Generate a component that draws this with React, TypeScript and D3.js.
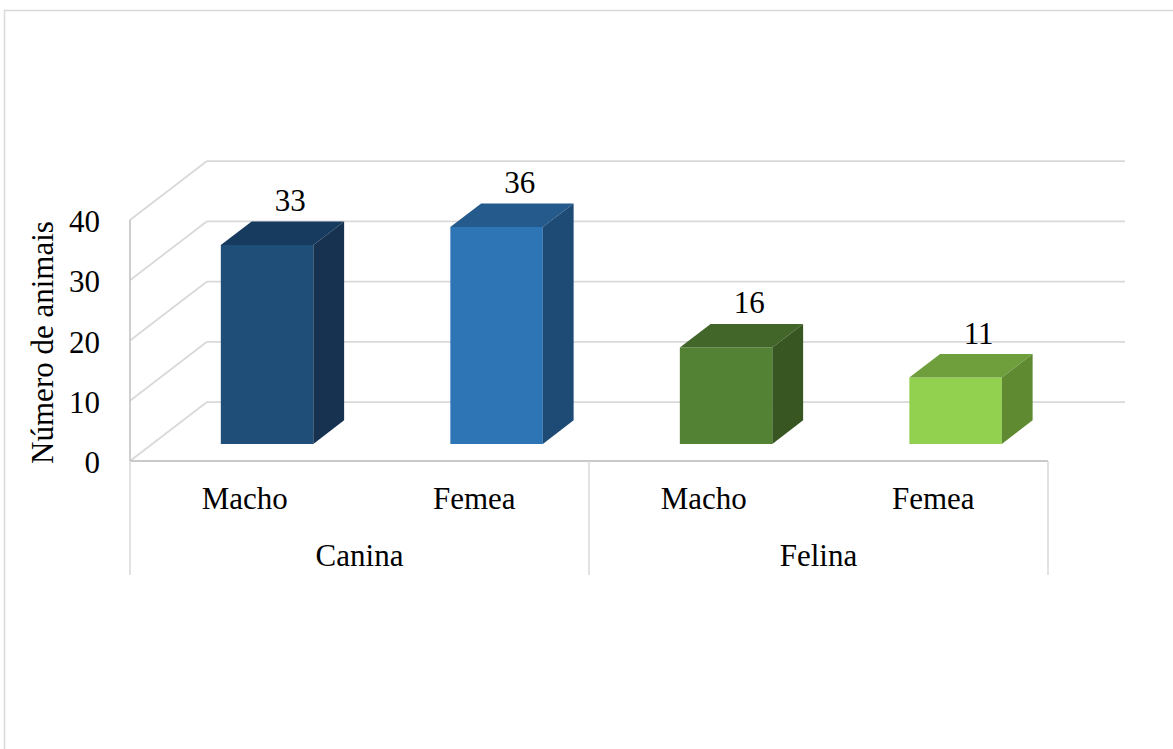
import React from "react";
import * as d3 from "d3";

const subCategories = ["Macho", "Femea", "Macho", "Femea"];
const groups = ["Canina", "Felina"];
const groupOf = [0, 0, 1, 1];
const values = [33, 36, 16, 11];
const yTicks = [0, 10, 20, 30, 40];
const frontColors = ["#1F4E79", "#2E75B6", "#548235", "#92D050"];
const topColors = ["#173B5E", "#245A8C", "#42662A", "#6F9E3C"];
const sideColors = ["#163250", "#1E4A76", "#385621", "#5F8A31"];

const W = 1173;
const H = 749;
const FONT = "'Times New Roman', 'Liberation Serif', serif";
const FS = 31;

export default function App() {
  // front plane geometry
  const x0 = 130;
  const x1 = 1048;
  const yScale = d3.scaleLinear().domain([0, 40]).range([461, 220]);
  const DX = 77;
  const DY = -59;
  const t0 = 0.29;
  const t1 = 0.69;
  const proj = (x: number, v: number, t: number): [number, number] => [x + t * DX, yScale(v) + t * DY];

  const xBand = d3.scaleBand<number>().domain(d3.range(values.length)).range([x0, x1]).padding(0);
  const step = xBand.bandwidth();
  const barW = step * 0.403;
  const groupBand = d3.scaleBand<number>().domain(d3.range(groups.length)).range([x0, x1]).padding(0);

  const pts = (arr: [number, number][]) => arr.map((p) => p.join(",")).join(" ");
  const grid = "#D9D9D9";

  return (
    <svg width={W} height={H} style={{ position: "absolute", left: 0, top: 0, background: "#fff" }}>
      <rect x={4.5} y={10.5} width={W + 10} height={H + 10} fill="#fff" stroke="#D9D9D9" strokeWidth={1.5} />
      {/* side wall diagonals and back wall gridlines */}
      {yTicks.map((v) => {
        const a = proj(x0, v, 0);
        const b = proj(x0, v, 1);
        const c = proj(x1, v, 1);
        return (
          <g key={"g" + v}>
            <line x1={a[0]} y1={a[1]} x2={b[0]} y2={b[1]} stroke={grid} strokeWidth={1.75} />
            <line x1={b[0]} y1={b[1]} x2={c[0]} y2={c[1]} stroke={grid} strokeWidth={1.75} />
          </g>
        );
      })}
      {/* front floor edge */}
      <line x1={x0} y1={yScale(0)} x2={x1} y2={yScale(0)} stroke="#C9C9C9" strokeWidth={2} />
      {/* front left axis line */}
      <line x1={x0} y1={yScale(40)} x2={x0} y2={yScale(0)} stroke="#BFBFBF" strokeWidth={1.5} />
      {/* group separators */}
      {d3.range(groups.length + 1).map((i) => {
        const x = i < groups.length ? (groupBand(i) as number) : x1;
        return <line key={"s" + i} x1={x} y1={yScale(0)} x2={x} y2={575} stroke={grid} strokeWidth={1.5} />;
      })}
      {/* bars */}
      {values.map((v, i) => {
        const cx = (xBand(i) as number) + step / 2;
        const l = cx - barW / 2;
        const r = cx + barW / 2;
        const fbl = proj(l, 0, t0);
        const fbr = proj(r, 0, t0);
        const ftl = proj(l, v, t0);
        const ftr = proj(r, v, t0);
        const btl = proj(l, v, t1);
        const btr = proj(r, v, t1);
        const bbr = proj(r, 0, t1);
        const lab = proj(cx, v, t0 + 0.3);
        return (
          <g key={"b" + i}>
            <polygon points={pts([fbl, fbr, ftr, ftl])} fill={frontColors[i]} />
            <polygon points={pts([ftl, ftr, btr, btl])} fill={topColors[i]} />
            <polygon points={pts([fbr, ftr, btr, bbr])} fill={sideColors[i]} />
            <text
              x={lab[0]}
              y={proj(cx, v, t0)[1] - 34}
              textAnchor="middle"
              fontFamily={FONT}
              fontSize={FS}
              fill="#000"
            >
              {v}
            </text>
          </g>
        );
      })}
      {/* y tick labels */}
      {yTicks.map((v) => (
        <text key={"t" + v} x={100} y={yScale(v) + 12} textAnchor="end" fontFamily={FONT} fontSize={FS} fill="#000">
          {v}
        </text>
      ))}
      {/* y title */}
      <text
        transform={`translate(53, ${(yScale(0) + 218) / 2 + 3}) rotate(-90)`}
        textAnchor="middle"
        fontFamily={FONT}
        fontSize={FS}
        fill="#000"
      >
        Número de animais
      </text>
      {/* category labels */}
      {subCategories.map((c, i) => (
        <text
          key={"c" + i}
          x={(xBand(i) as number) + step / 2}
          y={509}
          textAnchor="middle"
          fontFamily={FONT}
          fontSize={FS}
          fill="#000"
        >
          {c}
        </text>
      ))}
      {groups.map((g, i) => (
        <text
          key={"gr" + i}
          x={(groupBand(i) as number) + groupBand.bandwidth() / 2}
          y={566}
          textAnchor="middle"
          fontFamily={FONT}
          fontSize={FS}
          fill="#000"
        >
          {g}
        </text>
      ))}
      {/* hidden helper to keep group mapping referenced */}
      <g data-groups={groupOf.join(",")} />
    </svg>
  );
}
